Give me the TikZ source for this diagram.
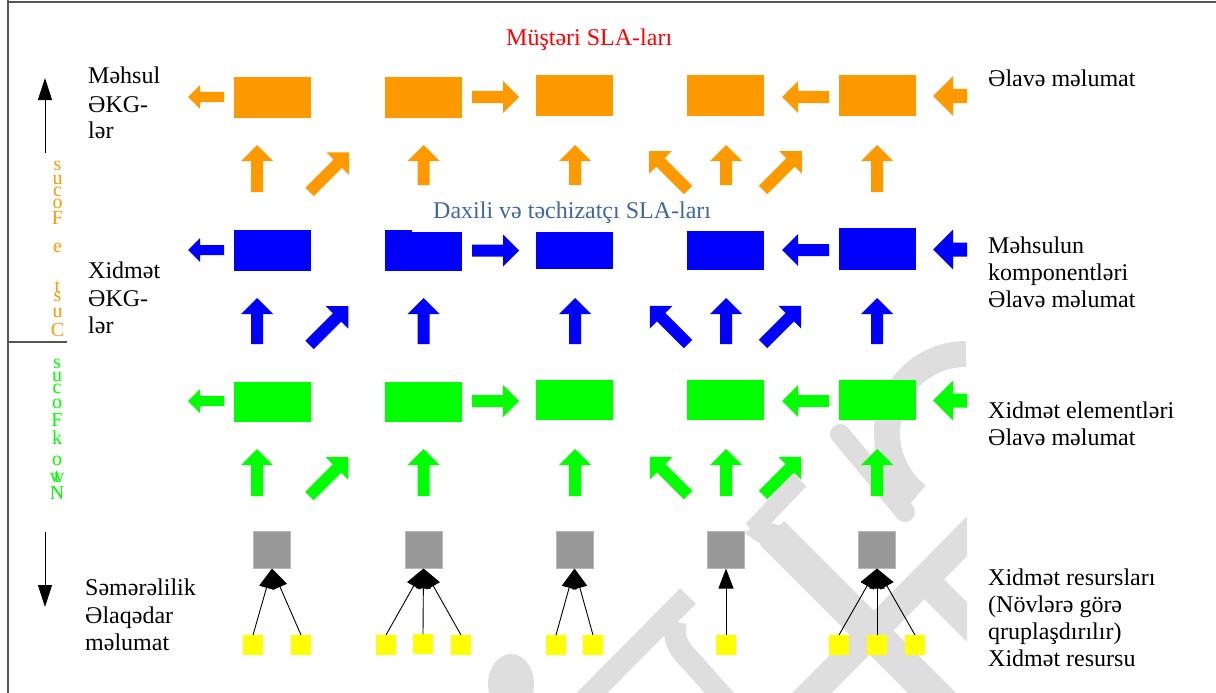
\documentclass[tikz,border=0pt]{standalone}
\usepackage{fontspec}
\setmainfont{Liberation Serif}
\usetikzlibrary{arrows.meta}

\definecolor{prodOrange}{HTML}{FF9900}
\definecolor{svcBlue}{HTML}{0000FF}
\definecolor{elemGreen}{HTML}{00FF00}
\definecolor{resGray}{HTML}{999999}
\definecolor{resEdge}{HTML}{B8B8B8}
\definecolor{unitYellow}{HTML}{FFFF00}
\definecolor{slaRed}{HTML}{FF0000}
\definecolor{slaSteel}{HTML}{3F67A0}
\definecolor{markGray}{HTML}{DEDEDE}
\definecolor{frameGray}{HTML}{555555}

\tikzset{
  % fat block arrow: tail at the origin, pointing along +x
  % argument: length / head width / shaft width
  pics/blockarrow/.style args={#1/#2/#3}{code={
    \fill (0,{-#3/2}) -- ({#1-#2/2},{-#3/2}) -- ({#1-#2/2},{-#2/2}) -- (#1,0)
          -- ({#1-#2/2},{#2/2}) -- ({#1-#2/2},{#3/2}) -- (0,{#3/2}) -- cycle;}},
  slabox/.style={rectangle, inner sep=0pt, outer sep=0pt, draw=none,
                 minimum width=77pt, minimum height=41pt},
  resbox/.style={rectangle, inner sep=0pt, outer sep=0pt, fill=resGray,
                 draw=resEdge, line width=0.8pt, minimum size=37pt},
  unitbox/.style={rectangle, inner sep=0pt, outer sep=0pt, fill=unitYellow,
                  minimum size=20pt},
  feed/.style={draw=black, line width=0.9pt, -{Triangle[length=20pt,width=15pt]}},
  axisarrow/.style={draw=black, line width=1pt, -{Triangle[length=22pt,width=14pt]}},
  lbl/.style={anchor=base west, inner sep=0pt, font=\fontsize{24}{27.5}\selectfont},
  vlet/.style={inner sep=0pt, font=\fontsize{20}{20}\selectfont},
  framerule/.style={draw=frameGray, line width=1.3pt},
  logostroke/.style={draw=markGray, line cap=round},
}

\begin{document}
\begin{tikzpicture}[x=1pt, y=-1pt]
\useasboundingbox (0,0) rectangle (1216,693);

% ---------- faint logo in the background ----------
\begin{scope}
  \clip (0,0) rectangle (967,693);
  \fill[markGray] (511,684) ellipse [x radius=23, y radius=30];
  \draw[logostroke, line width=26pt, line cap=butt] (966,433) ++(0,-79) arc[start angle=-90, end angle=-232, radius=79];
  \draw[logostroke, line width=20pt] (840,434) -- (905,512);
  \draw[logostroke, line width=18pt, line cap=butt] (800,480) -- (752,530);
  \fill[markGray] (745,533) .. controls (760,545) and (770,548) .. (778,556) -- (790,528) -- (760,520) -- cycle;
  \draw[logostroke, line width=34pt, line cap=butt] (772,533) -- (945,706);
  \draw[logostroke, line width=28pt, line cap=butt] (990,513) -- (800,705);
  \draw[logostroke, line width=28pt] (925,580) -- (990,645);
  \draw[logostroke, line width=22pt, line cap=butt] (688,596) -- (580,705);
  \draw[logostroke, line width=22pt, line cap=butt] (676,622) .. controls (672,640) and (680,650) .. (690,660) -- (730,705);
\end{scope}

% ---------- frame ----------
\draw[framerule] (8,0) -- (8,693);
\draw[framerule] (8,2) -- (1216,2);
\draw[framerule] (8,342) -- (67,342);

% ---------- headings ----------
\node[lbl, text=slaRed] (hcust) at (506,46) {Müştəri SLA-ları};
\node[lbl, text=slaSteel] (hint) at (433,218) {Daxili və təchizatçı SLA-ları};

% ---------- product level (orange) ----------
\node[slabox, fill=prodOrange] (p1) at (272,97.5) {};
\node[slabox, fill=prodOrange] (p2) at (423.5,97.5) {};
\node[slabox, fill=prodOrange] (p3) at (574.5,95.5) {};
\node[slabox, fill=prodOrange] (p4) at (725.5,95.5) {};
\node[slabox, fill=prodOrange] (p5) at (877,95.5) {};

\pic[color=prodOrange, rotate=180] at (224,97) {blockarrow=36/24/10};
\pic[color=prodOrange] at (472,97) {blockarrow=47/32/12};
\pic[color=prodOrange, rotate=180] at (829,97) {blockarrow=47/32/12};
\pic[color=prodOrange, rotate=180] at (967,96) {blockarrow=34/40/14};

\pic[color=prodOrange, rotate=90] at (257,192) {blockarrow=47/32/12};
\pic[color=prodOrange, rotate=45] at (309.5,192) {blockarrow=56/32/12};
\pic[color=prodOrange, rotate=90] at (423.5,185) {blockarrow=40/32/12};
\pic[color=prodOrange, rotate=90] at (575,185) {blockarrow=40/32/12};
\pic[color=prodOrange, rotate=135] at (688,190) {blockarrow=55/32/12};
\pic[color=prodOrange, rotate=90] at (726,185) {blockarrow=40/32/12};
\pic[color=prodOrange, rotate=45] at (763,190) {blockarrow=55/32/12};
\pic[color=prodOrange, rotate=90] at (877,192) {blockarrow=47/32/12};

% ---------- service level (blue) ----------
\node[slabox, fill=svcBlue] (s1) at (272.5,250.5) {};
\node[slabox, fill=svcBlue, minimum height=39pt] (s2) at (423.5,251.5) {};
\fill[svcBlue] (385,230) rectangle (412,233);
\node[slabox, fill=svcBlue, minimum height=37pt] (s3) at (574.5,250.5) {};
\node[slabox, fill=svcBlue, minimum height=39pt] (s4) at (725.5,250.5) {};
\node[slabox, fill=svcBlue, minimum height=42pt] (s5) at (877,249) {};

\pic[color=svcBlue, rotate=180] at (224,250) {blockarrow=36/24/10};
\pic[color=svcBlue] at (472,250.5) {blockarrow=47/32/12};
\pic[color=svcBlue, rotate=180] at (829,250) {blockarrow=47/32/12};
\pic[color=svcBlue, rotate=180] at (967,249.5) {blockarrow=34/40/14};

\pic[color=svcBlue, rotate=90] at (257,344) {blockarrow=46/32/12};
\pic[color=svcBlue, rotate=45] at (309.5,345) {blockarrow=55/32/12};
\pic[color=svcBlue, rotate=90] at (423.5,344) {blockarrow=46/32/12};
\pic[color=svcBlue, rotate=90] at (575,344) {blockarrow=46/32/12};
\pic[color=svcBlue, rotate=135] at (688,344) {blockarrow=54/32/12};
\pic[color=svcBlue, rotate=90] at (726,344) {blockarrow=46/32/12};
\pic[color=svcBlue, rotate=45] at (763,344) {blockarrow=54/32/12};
\pic[color=svcBlue, rotate=90] at (877,344) {blockarrow=46/32/12};

% ---------- service element level (green) ----------
\node[slabox, fill=elemGreen, minimum height=40pt] (e1) at (272.5,402) {};
\node[slabox, fill=elemGreen, minimum height=40pt] (e2) at (423.5,402) {};
\node[slabox, fill=elemGreen, minimum height=40pt] (e3) at (574.5,400) {};
\node[slabox, fill=elemGreen, minimum height=40pt] (e4) at (725.5,400) {};
\node[slabox, fill=elemGreen, minimum height=40pt] (e5) at (877,400) {};

\pic[color=elemGreen, rotate=180] at (224,401) {blockarrow=36/24/10};
\pic[color=elemGreen] at (472,401) {blockarrow=47/32/12};
\pic[color=elemGreen, rotate=180] at (829,401) {blockarrow=47/32/12};
\pic[color=elemGreen, rotate=180] at (967,400.5) {blockarrow=34/40/14};

\pic[color=elemGreen, rotate=90] at (257,496) {blockarrow=47/32/12};
\pic[color=elemGreen, rotate=45] at (309.5,496) {blockarrow=55/32/12};
\pic[color=elemGreen, rotate=90] at (423.5,496) {blockarrow=47/32/12};
\pic[color=elemGreen, rotate=90] at (575,496) {blockarrow=47/32/12};
\pic[color=elemGreen, rotate=135] at (688,495) {blockarrow=54/32/12};
\pic[color=elemGreen, rotate=90] at (726,496) {blockarrow=47/32/12};
\pic[color=elemGreen, rotate=45] at (763,495) {blockarrow=54/32/12};
\pic[color=elemGreen, rotate=90] at (877,496) {blockarrow=47/32/12};

% ---------- resource groups (grey) and resources (yellow) ----------
\node[resbox] (r1) at (272,550) {};
\node[resbox] (r2) at (423.5,550) {};
\node[resbox] (r3) at (574.5,550) {};
\node[resbox] (r4) at (726,550) {};
\node[resbox] (r5) at (877,550) {};

\node[unitbox] (u11) at (253,645) {};
\node[unitbox] (u12) at (301,645) {};
\node[unitbox] (u21) at (386,645) {};
\node[unitbox] (u22) at (423,644) {};
\node[unitbox] (u23) at (461,645) {};
\node[unitbox] (u31) at (556,645) {};
\node[unitbox] (u32) at (593,645) {};
\node[unitbox] (u41) at (726,645) {};
\node[unitbox] (u51) at (839,645) {};
\node[unitbox] (u52) at (877,645) {};
\node[unitbox] (u53) at (915,645) {};

\draw[feed] (u11.north) -- (r1.south);
\draw[feed] (u12.north) -- (r1.south);
\draw[feed] (u21.north) -- (r2.south);
\draw[feed] (u22.north) -- (r2.south);
\draw[feed] (u23.north) -- (r2.south);
\draw[feed] (u31.north) -- (r3.south);
\draw[feed] (u32.north) -- (r3.south);
\draw[feed] (u41.north) -- (r4.south);
\draw[feed] (u51.north) -- (r5.south);
\draw[feed] (u52.north) -- (r5.south);
\draw[feed] (u53.north) -- (r5.south);

% ---------- left column ----------
\coordinate (upfrom) at (45,153);
\coordinate (upto) at (45,78);
\coordinate (downfrom) at (45,532);
\coordinate (downto) at (45,607);
\draw[axisarrow] (upfrom) -- (upto);
\draw[axisarrow] (downfrom) -- (downto);

\node[lbl] (lp1) at (88,84) {Məhsul};
\node[lbl] (lp2) at (88,112) {ƏKG-};
\node[lbl] (lp3) at (88,139) {lər};
\node[lbl] (ls1) at (88,278) {Xidmət};
\node[lbl] (ls2) at (88,306) {ƏKG-};
\node[lbl] (ls3) at (88,333) {lər};
\node[lbl] (le1) at (85,595) {Səmərəlilik};
\node[lbl] (le2) at (85,623) {Əlaqədar};
\node[lbl] (le3) at (85,650) {məlumat};

% stacked letters of the two focus labels
\begin{scope}[every node/.style={vlet, text=prodOrange}]
  \node (cf1) at (57.5,166) {s};
  \node (cf2) at (57.5,180) {u};
  \node (cf3) at (57.5,192) {c};
  \node (cf4) at (57.5,204) {o};
  \node (cf5) at (57.5,218) {F};
  \node (cf6) at (57.5,248) {e};
  \node (cf7) at (57.5,287) {t};
  \node (cf8) at (57.5,297) {s};
  \node (cf9) at (57.5,313) {u};
  \node (cf10) at (57.5,330) {C};
\end{scope}
\begin{scope}[every node/.style={vlet, text=elemGreen}]
  \node (nf1) at (57,364) {s};
  \node (nf2) at (57,377) {u};
  \node (nf3) at (57,389) {c};
  \node (nf4) at (57,404) {o};
  \node (nf5) at (57,420) {F};
  \node (nf6) at (57,438) {k};
  \node (nf7) at (57,461) {o};
  \node (nf8) at (57,477) {t};
  \node (nf9) at (57,478) {w};
  \node (nf10) at (57,493) {N};
\end{scope}

% ---------- right column ----------
\node[lbl] (rp1) at (988,86) {Əlavə məlumat};
\node[lbl] (rs1) at (988,253) {Məhsulun};
\node[lbl] (rs2) at (988,280) {komponentləri};
\node[lbl] (rs3) at (988,307) {Əlavə məlumat};
\node[lbl] (re1) at (988,418) {Xidmət elementləri};
\node[lbl] (re2) at (988,445) {Əlavə məlumat};
\node[lbl] (rr1) at (988,585) {Xidmət resursları};
\node[lbl] (rr2) at (988,612) {(Növlərə görə};
\node[lbl] (rr3) at (988,639) {qruplaşdırılır)};
\node[lbl] (rr4) at (988,666) {Xidmət resursu};
\end{tikzpicture}
\end{document}
